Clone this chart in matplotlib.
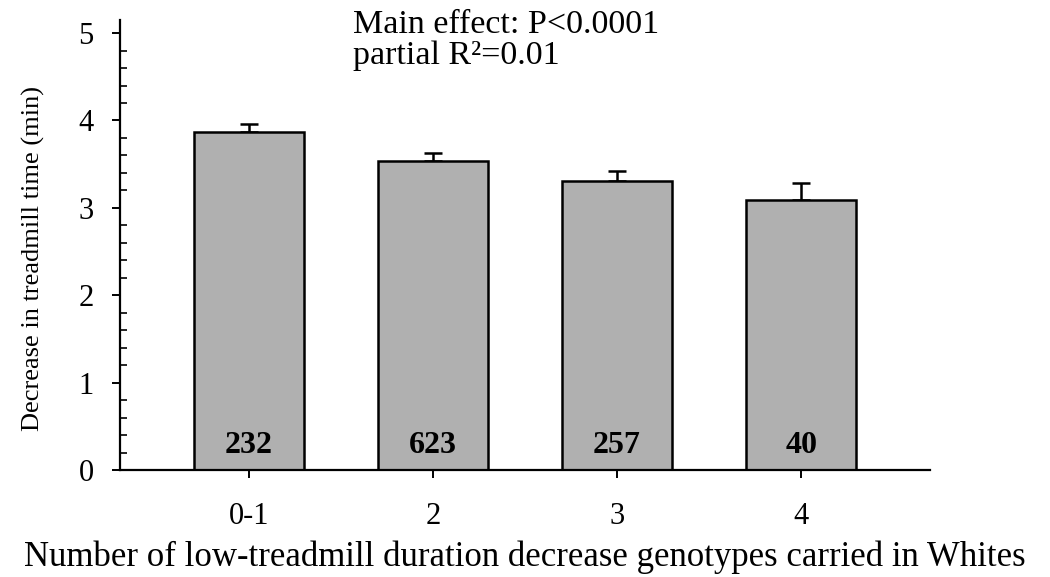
import numpy as np
import matplotlib
matplotlib.use("Agg")
import matplotlib.pyplot as plt
from matplotlib.ticker import MultipleLocator

# Data
categories = ["0-1", "2", "3", "4"]
means = [3.87, 3.54, 3.31, 3.09]
sems = [0.09, 0.09, 0.11, 0.20]
counts = ["232", "623", "257", "40"]

plt.rcParams['font.family'] = ['Liberation Serif', 'DejaVu Serif']

fig = plt.figure(figsize=(10.5, 5.77), dpi=100)
ax = fig.add_axes([0.1143, 0.1854, 0.7714, 0.78])

x = np.arange(len(categories))
ax.bar(x, means, width=0.6, color='#b0b0b0', edgecolor='black', linewidth=1.8, zorder=2)
ax.errorbar(x, means, yerr=[np.zeros(len(sems)), sems], fmt='none', ecolor='black',
            elinewidth=1.8, capsize=6.5, capthick=1.8, zorder=1)

# sample sizes inside the bars
for xi, c in zip(x, counts):
    ax.text(xi, 0.2, c, ha='center', va='baseline', fontsize=23, fontweight='bold', zorder=3)

ax.set_xlim(-0.7, 3.7)
ax.set_ylim(0, 5.15)
ax.set_xticks(x)
ax.set_xticklabels(categories)
ax.set_yticks([0, 1, 2, 3, 4, 5])
ax.yaxis.set_minor_locator(MultipleLocator(0.2))

for s in ['top', 'right']:
    ax.spines[s].set_visible(False)
for s in ['left', 'bottom']:
    ax.spines[s].set_linewidth(1.6)

ax.tick_params(axis='both', which='major', direction='out', length=6, width=1.4, labelsize=22)
ax.tick_params(axis='y', which='minor', direction='in', length=5, width=1.2)
ax.tick_params(axis='x', pad=17)
ax.tick_params(axis='y', pad=13)

ax.set_xlabel("Number of low-treadmill duration decrease genotypes carried in Whites",
              fontsize=25, labelpad=7)
ax.set_ylabel("Decrease in treadmill time (min)", fontsize=19)
ax.yaxis.set_label_coords(-0.092, 0.47)

ax.text(0.565, 5.0, "Main effect: P<0.0001", fontsize=24.5, ha='left', va='baseline')
ax.text(0.565, 4.65, "partial R\u00b2=0.01", fontsize=24.5, ha='left', va='baseline')

fig.savefig("out.png", dpi=100)
